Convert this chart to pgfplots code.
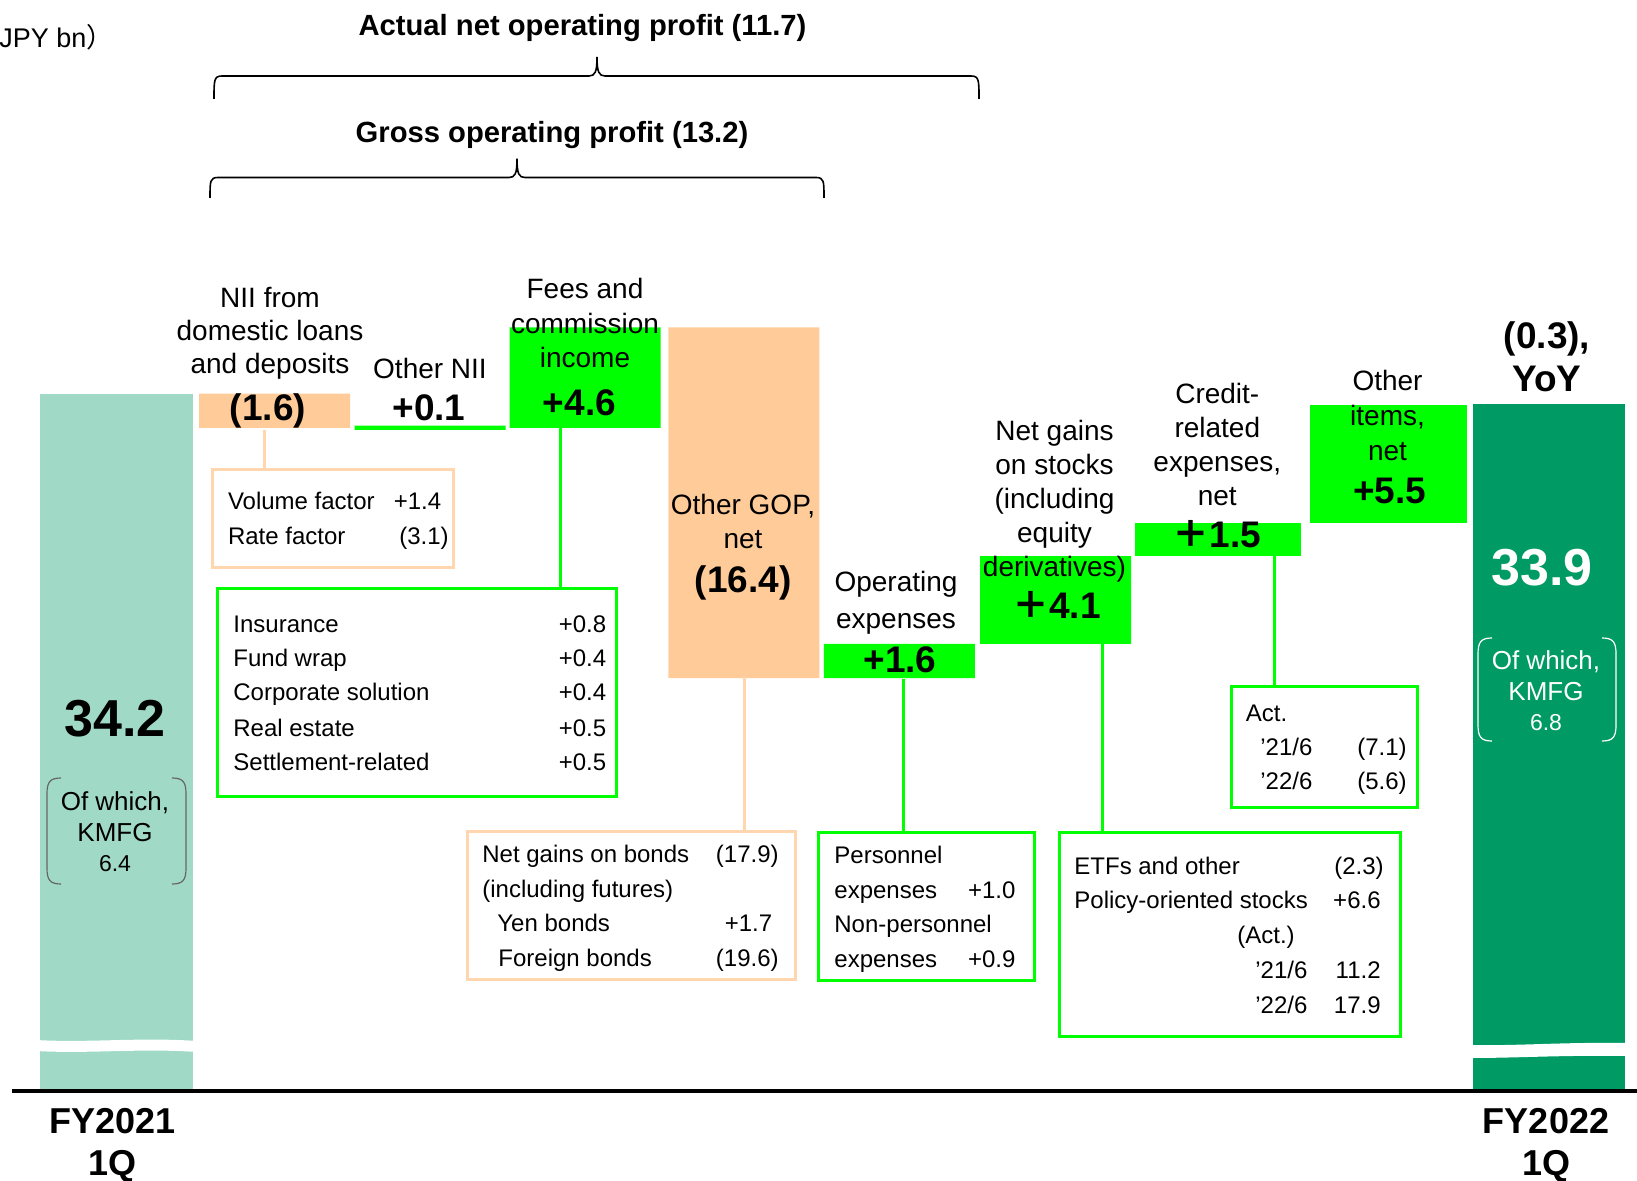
\documentclass[border=0pt]{standalone}
\usepackage{pgfplots}
\pgfplotsset{compat=1.18}
\usepackage{pgfplotstable}
\usepackage{fontspec}
\setmainfont{Liberation Sans}
\newfontfamily\cjk{Noto Sans CJK JP}
\definecolor{tealh}{HTML}{A0D9C6}
\definecolor{peach}{HTML}{FFCC99}
\definecolor{lpeach}{HTML}{FFD6AD}
\definecolor{lime}{HTML}{00FF00}
\definecolor{dgreen}{HTML}{009B65}
\newcommand\fs[2]{\fontsize{#1}{#2}\selectfont}

% waterfall: invisible base + visible delta (JPY bn)
\pgfplotstableread{
x      base  teal peach lime limec limeo dgreen
116.4  1.6   32.6 0     0    0     0     0
274.6  32.6  0    1.6   0    0     0     0
430    32.5  0    0     0.2  0     0     0
585.2  32.6  0    0     4.7  0     0     0
743.8  20.9  0    16.4  0    0     0     0
899.4  20.9  0    0     1.6  0     0     0
1055.5 22.5  0    0     4.1  0     0     0
1217.8 26.6  0    0     0    1.55  0     0
1388.4 28.15 0    0     0    0     5.5   0
1548.8 1.6   0    0     0    0     0     32.1
}\bars

\tikzset{
  lab/.style={anchor=base, inner sep=0, font=\fs{14}{17}},
  bnum/.style={anchor=base, inner sep=0, font=\fs{18.5}{22}\bfseries},
  bx/.style={anchor=base west, inner sep=0, font=\fs{12}{14}},
  bxr/.style={anchor=base east, inner sep=0, font=\fs{12}{14}},
  kb/.style={anchor=base, inner sep=0, font=\fs{13}{15}},
}

\begin{document}
\begin{tikzpicture}
\begin{axis}[
  scale only axis, width=818.5pt, height=590pt,
  xmin=0, xmax=1637, ymin=-2.548, ymax=52.593,
  hide axis, clip=false,
  ybar stacked,
]
\addplot[draw=none, fill=none, bar width=151] table[x=x, y=base] {\bars};
\addplot[draw=none, fill=tealh, bar width=153.4] table[x=x, y=teal] {\bars};
\addplot[draw=none, fill=peach, bar width=151] table[x=x, y=peach] {\bars};
\addplot[draw=none, fill=lime, bar width=151] table[x=x, y=lime] {\bars};
\addplot[draw=none, fill=lime, bar width=166] table[x=x, y=limec] {\bars};
\addplot[draw=none, fill=lime, bar width=157] table[x=x, y=limeo] {\bars};
\addplot[draw=none, fill=dgreen, bar width=151.5] table[x=x, y=dgreen] {\bars};
\end{axis}

\begin{scope}[shift={(0,590pt)}, x=0.5pt, y=-0.5pt]
% axis breaks
\fill[white] (36,1040) .. controls (90,1043) and (140,1037) .. (197,1041) -- (197,1052) .. controls (140,1048) and (90,1054) .. (36,1051) -- cycle;
\fill[white] (1469,1045) .. controls (1520,1046) and (1560,1042) .. (1628,1043) -- (1628,1056) .. controls (1560,1055) and (1520,1058) .. (1469,1058) -- cycle;
% baseline
\draw[line width=2pt] (11.5,1091) -- (1640,1091);

% unit
\node[anchor=base west, inner sep=0, font=\fs{13.5}{16}] at (-1,47.3) {JPY bn{\cjk ）}};

% braces and headings
\node[anchor=base, inner sep=0, font=\fs{14.6}{17}\bfseries] at (582.5,35.5) {Actual net operating profit (11.7)};
\draw[line width=0.8pt] (214,99) .. controls (214,80) and (214,76) .. (222,76) -- (589,76) .. controls (595,76) and (597,72) .. (597,57)
  .. controls (597,72) and (599,76) .. (605,76) -- (971,76) .. controls (979,76) and (979,80) .. (979,99);
\node[anchor=base, inner sep=0, font=\fs{14.6}{17}\bfseries] at (552,143) {Gross operating profit (13.2)};
\draw[line width=0.8pt] (210,198) .. controls (210,181) and (210,177.5) .. (218,177.5) -- (509,177.5) .. controls (515,177.5) and (517,174) .. (517,158.7)
  .. controls (517,174) and (519,177.5) .. (525,177.5) -- (816,177.5) .. controls (824,177.5) and (824,181) .. (824,198);

% connectors and boxes
\draw[lpeach, line width=1.5pt] (264,430) -- (264,469);
\draw[lpeach, line width=1.5pt] (212,469) rectangle (453,567);
\draw[lime, line width=1.5pt] (560,428) -- (560,588);
\draw[lime, line width=1.5pt] (217,588) rectangle (616,796.6);
\draw[lpeach, line width=1.5pt] (744,676.5) -- (744,831);
\draw[lpeach, line width=1.5pt] (467.7,831) rectangle (795.5,979);
\draw[lime, line width=1.5pt] (903,678.6) -- (903,832);
\draw[lime, line width=1.5pt] (818.5,832) rectangle (1034.6,980);
\draw[lime, line width=1.5pt] (1102.5,642) -- (1102.5,832);
\draw[lime, line width=1.5pt] (1059.7,832) rectangle (1400,1036.7);
\draw[lime, line width=1.5pt] (1274.7,555) -- (1274.7,686);
\draw[lime, line width=1.5pt] (1231,686) rectangle (1417.8,807);

% titles
\node[lab] at (270,307.5) {NII from};
\node[lab] at (270,341) {domestic loans};
\node[lab] at (270,374) {and deposits};
\node[lab] at (430,378.5) {Other NII};
\node[lab] at (585,299) {Fees and};
\node[lab] at (585,333.6) {commission};
\node[lab] at (585,368) {income};
\node[lab] at (743,514) {Other GOP,};
\node[lab] at (743,548.7) {net};
\node[lab] at (896,591.5) {Operating};
\node[lab] at (896,628) {expenses};
\node[lab] at (1054.5,440) {Net gains};
\node[lab] at (1054.5,474.6) {on stocks};
\node[lab] at (1054.5,508) {(including};
\node[lab] at (1054.5,542.4) {equity};
\node[lab] at (1054.5,576) {derivatives)};
\node[lab] at (1217.3,403.6) {Credit-};
\node[lab] at (1217.3,438) {related};
\node[lab] at (1217.3,471.5) {expenses,};
\node[lab] at (1217.3,505) {net};
\node[lab] at (1387.5,390) {Other};
\node[lab] at (1387.5,425.5) {items,};
\node[lab] at (1387.5,461) {net};

% bold values
\node[bnum] at (268,420) {(1.6)};
\node[bnum] at (429,421) {+0.1};
\node[bnum] at (579.5,416) {+4.6};
\node[bnum] at (743,592.4) {(16.4)};
\node[bnum] at (900,672) {+1.6};
\node[bnum] at (1056.5,618.5) {{\cjk\bfseries ＋}4.1};
\node[bnum] at (1217,547.5) {{\cjk\bfseries ＋}1.5};
\node[bnum] at (1389.6,503.7) {+5.5};
\node[bnum] at (1547,349) {(0.3),};
\node[bnum] at (1547,392) {YoY};

% start / end totals
\node[anchor=base, inner sep=0, font=\fs{26}{30}\bfseries] at (115,736.6) {34.2};
\node[anchor=base, inner sep=0, font=\fs{26}{30}\bfseries, text=white] at (1542,585.6) {33.9};
\node[kb] at (115,810) {Of which,};
\node[kb] at (115,841) {KMFG};
\node[kb, font=\fs{11.5}{14}] at (115,871) {6.4};
\draw[black!60, line width=0.6pt] (61,778) .. controls (50,778) and (47,782) .. (47,794) -- (47,868) .. controls (47,880) and (50,884) .. (61,884);
\draw[black!60, line width=0.6pt] (172,778) .. controls (183,778) and (186,782) .. (186,794) -- (186,868) .. controls (186,880) and (183,884) .. (172,884);
\node[kb, text=white] at (1546,669) {Of which,};
\node[kb, text=white] at (1546,700) {KMFG};
\node[kb, text=white, font=\fs{11.5}{14}] at (1546,730.5) {6.8};
\draw[white, line width=0.6pt] (1492,638) .. controls (1481,638) and (1478,642) .. (1478,654) -- (1478,725) .. controls (1478,737) and (1481,741) .. (1492,741);
\draw[white, line width=0.6pt] (1602,638) .. controls (1613,638) and (1616,642) .. (1616,654) -- (1616,725) .. controls (1616,737) and (1613,741) .. (1602,741);

% category labels
\node[anchor=base, inner sep=0, font=\fs{18}{21}\bfseries] at (112.7,1133) {FY2021};
\node[anchor=base, inner sep=0, font=\fs{18}{21}\bfseries] at (112.7,1175) {1Q};
\node[anchor=base, inner sep=0, font=\fs{18}{21}\bfseries] at (1546,1133) {FY2022};
\node[anchor=base, inner sep=0, font=\fs{18}{21}\bfseries] at (1546,1175) {1Q};

% box texts
\node[bx] at (227.6,509.6) {Volume factor};
\node[bxr] at (441.6,509.6) {+1.4};
\node[bx] at (227.6,544.2) {Rate factor};
\node[bxr] at (449,544.2) {(3.1)};

\node[bx] at (233,632) {Insurance};
\node[bx] at (233,666.3) {Fund wrap};
\node[bx] at (233,700.8) {Corporate solution};
\node[bx] at (233,736.3) {Real estate};
\node[bx] at (233,770.7) {Settlement-related};
\node[bxr] at (606.6,632) {+0.8};
\node[bxr] at (606.6,666.3) {+0.4};
\node[bxr] at (606.6,700.8) {+0.4};
\node[bxr] at (606.6,736.3) {+0.5};
\node[bxr] at (606.6,770.7) {+0.5};

\node[bx] at (482,862.6) {Net gains on bonds};
\node[bxr] at (779,862.6) {(17.9)};
\node[bx] at (482,897) {(including futures)};
\node[bx] at (497,931.6) {Yen bonds};
\node[bxr] at (772.6,931.6) {+1.7};
\node[bx] at (498,966) {Foreign bonds};
\node[bxr] at (779,966) {(19.6)};

\node[bx] at (834,863.6) {Personnel};
\node[bx] at (834,898) {expenses};
\node[bxr] at (1015.8,898) {+1.0};
\node[bx] at (834,932.6) {Non-personnel};
\node[bx] at (834,967) {expenses};
\node[bxr] at (1015.8,967) {+0.9};

\node[bx] at (1074,874) {ETFs and other};
\node[bxr] at (1384,874) {(2.3)};
\node[bx] at (1074,908.6) {Policy-oriented stocks};
\node[bxr] at (1381,908.6) {+6.6};
\node[anchor=base, inner sep=0, font=\fs{12}{14}] at (1266,943) {(Act.)};
\node[bx] at (1255,978.6) {’21/6};
\node[bxr] at (1381,978.6) {11.2};
\node[bx] at (1255,1013) {’22/6};
\node[bxr] at (1381,1013) {17.9};

\node[bx] at (1245.5,721.6) {Act.};
\node[bx] at (1260,755) {’21/6};
\node[bxr] at (1407,755) {(7.1)};
\node[bx] at (1260,789.6) {’22/6};
\node[bxr] at (1407,789.6) {(5.6)};
\end{scope}

\pgfresetboundingbox
\path (0,0) rectangle (818.5pt,590pt);
\end{tikzpicture}
\end{document}
